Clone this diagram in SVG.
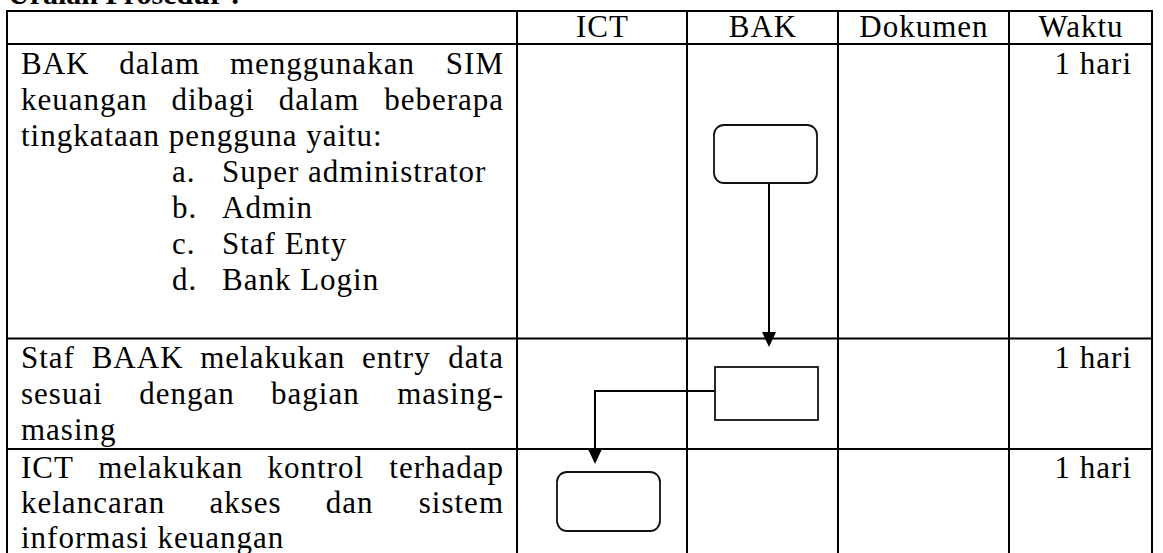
<svg xmlns="http://www.w3.org/2000/svg" width="1163" height="553" viewBox="0 0 1163 553">
<style>
.t{font-family:"Liberation Serif","Times New Roman",serif;font-size:31px;letter-spacing:1px;fill:#000}
.ttl{font-family:"Liberation Serif","Times New Roman",serif;font-size:30px;font-weight:bold;fill:#000}
.grid{stroke:#000;stroke-width:2;fill:none}
.box{fill:#fff;stroke:#111;stroke-width:1.8}
.conn{fill:none;stroke:#000;stroke-width:2}
.c{text-anchor:middle}
.e{text-anchor:end}
</style>
<defs>
<marker id="arr" viewBox="0 0 15 14" refX="0" refY="7" markerWidth="15" markerHeight="14" markerUnits="userSpaceOnUse" orient="auto">
<path d="M0,0 L15,7 L0,14 Z" fill="#000"/>
</marker>
</defs>
<rect width="1163" height="553" fill="#fff"/>
<text class="ttl" x="8" y="4">Uraian Prosedur :</text>
<g id="table" class="grid">
<line x1="7" y1="11" x2="1152" y2="11"/>
<line x1="7" y1="44" x2="1152" y2="44"/>
<line x1="7" y1="338.5" x2="1152" y2="338.5"/>
<line x1="7" y1="449" x2="1152" y2="449"/>
<line x1="7" y1="10" x2="7" y2="553"/>
<line x1="517" y1="11" x2="517" y2="553"/>
<line x1="687" y1="11" x2="687" y2="553"/>
<line x1="838" y1="11" x2="838" y2="553"/>
<line x1="1009" y1="11" x2="1009" y2="553"/>
<line x1="1152" y1="10" x2="1152" y2="553"/>
</g>
<g id="header">
<text class="t c" x="602.5" y="37">ICT</text>
<text class="t c" x="763" y="37">BAK</text>
<text class="t c" x="924" y="37">Dokumen</text>
<text class="t c" x="1081" y="37">Waktu</text>
</g>
<g id="row1-text">
<text class="t" y="74"><tspan x="21">BAK</tspan><tspan x="119.3">dalam</tspan><tspan x="230">menggunakan</tspan></text>
<text class="t e" x="504" y="74">SIM</text>
<text class="t" y="110"><tspan x="21">keuangan</tspan><tspan x="171.5">dibagi</tspan><tspan x="278.7">dalam</tspan></text>
<text class="t e" x="504" y="110">beberapa</text>
<text class="t" x="21" y="146">tingkataan pengguna yaitu:</text>
<text class="t" x="172" y="182">a.</text><text class="t" x="222" y="182">Super administrator</text>
<text class="t" x="172" y="218">b.</text><text class="t" x="222" y="218">Admin</text>
<text class="t" x="172" y="254">c.</text><text class="t" x="222" y="254">Staf Enty</text>
<text class="t" x="172" y="290">d.</text><text class="t" x="222" y="290">Bank Login</text>
<text class="t e" x="1132" y="74">1 hari</text>
</g>
<g id="row2-text">
<text class="t" y="368"><tspan x="21">Staf</tspan><tspan x="91.7">BAAK</tspan><tspan x="200.2">melakukan</tspan><tspan x="362">entry</tspan></text>
<text class="t e" x="504" y="368">data</text>
<text class="t" y="404"><tspan x="21">sesuai</tspan><tspan x="139.2">dengan</tspan><tspan x="271.1">bagian</tspan></text>
<text class="t e" x="504" y="404">masing-</text>
<text class="t" x="21" y="440">masing</text>
<text class="t e" x="1132" y="368">1 hari</text>
</g>
<g id="row3-text">
<text class="t" y="478"><tspan x="21">ICT</tspan><tspan x="98.2">melakukan</tspan><tspan x="267.5">kontrol</tspan></text>
<text class="t e" x="504" y="478">terhadap</text>
<text class="t" y="513"><tspan x="21">kelancaran</tspan><tspan x="209.5">akses</tspan><tspan x="325.8">dan</tspan></text>
<text class="t e" x="504" y="513">sistem</text>
<text class="t" x="21" y="548">informasi keuangan</text>
<text class="t e" x="1132" y="478">1 hari</text>
</g>
<g id="connectors">
<path class="conn" d="M769,183 V332" marker-end="url(#arr)"/>
<path class="conn" d="M715,391 H595 V449" marker-end="url(#arr)"/>
</g>
<g id="node-bak-start">
<rect class="box" x="714" y="125" width="103" height="58" rx="10"/>
</g>
<g id="node-bak-entry">
<rect class="box" x="715" y="367" width="103" height="53"/>
</g>
<g id="node-ict-control">
<rect class="box" x="557" y="472" width="103" height="59" rx="10"/>
</g>
</svg>
